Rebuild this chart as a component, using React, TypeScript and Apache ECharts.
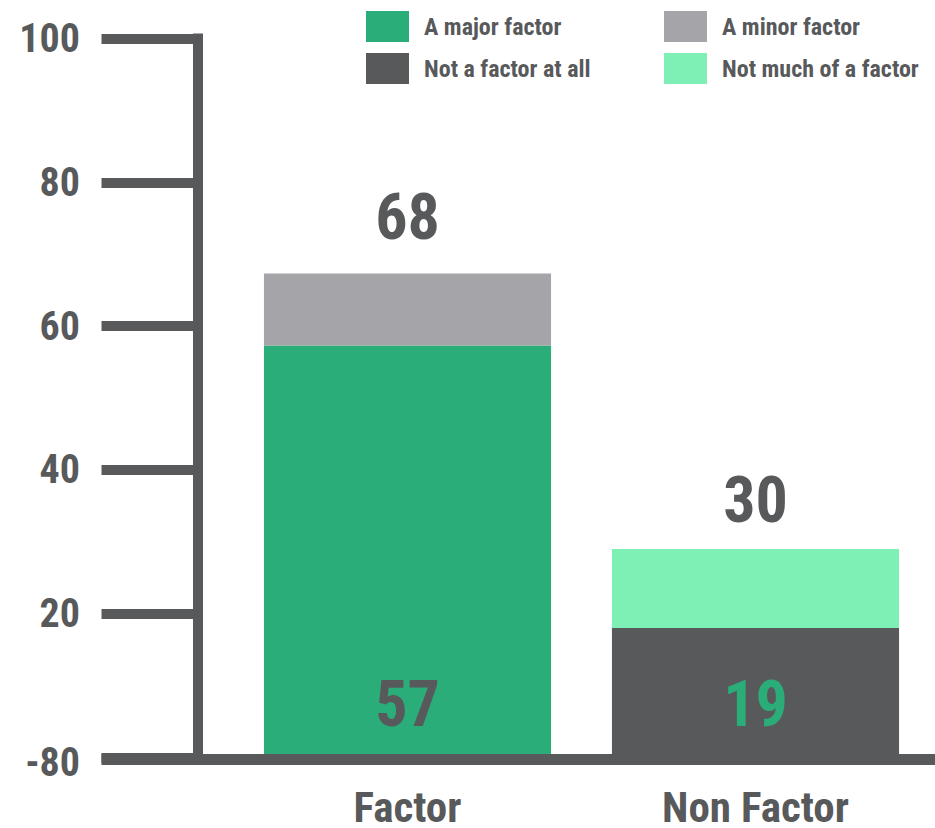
import React, { useEffect, useRef } from "react";
import * as echarts from "echarts";

const categories = ["Factor", "Non Factor"];
const majorFactor = [57.3, "-"];
const minorFactor = [10.0, "-"];
const notAtAll = ["-", 18.0];
const notMuch = ["-", 11.0];
const baseLabels = ["57", "19"];
const totalLabels = ["68", "30"];
const yTickLabels = ["-80", "20", "40", "60", "80", "100"];

const FONT = "'Roboto Condensed', 'Liberation Sans Narrow', Roboto, sans-serif";
const DARK = "#58595b";
const GREEN = "#2aad78";
const GRAY = "#a5a4a8";
const LIGHT = "#7eefb5";

export default function App() {
  const ref = useRef<HTMLDivElement>(null);
  useEffect(() => {
    const chart = echarts.init(ref.current!, null, { renderer: "svg" });
    const legendText = {
      fontFamily: FONT,
      fontWeight: "bold" as const,
      fontSize: 24,
      color: DARK,
      padding: [0, 0, 0, 10],
    };
    const valueLabel = {
      show: true,
      fontSize: 64,
      fontWeight: "bold" as const,
      fontFamily: FONT,
    };
    chart.setOption({
      animation: false,
      textStyle: { fontFamily: FONT },
      legend: [
        {
          orient: "vertical",
          left: 366,
          top: 11,
          padding: 0,
          itemWidth: 43,
          itemHeight: 31,
          itemGap: 11,
          icon: "rect",
          data: ["A major factor", "Not a factor at all"],
          textStyle: legendText,
          selectedMode: false,
        },
        {
          orient: "vertical",
          left: 664,
          top: 11,
          padding: 0,
          itemWidth: 43,
          itemHeight: 31,
          itemGap: 11,
          icon: "rect",
          data: ["A minor factor", "Not much of a factor"],
          textStyle: legendText,
          selectedMode: false,
        },
      ],
      grid: [
        { left: 233.5, right: 5.5, top: 38.5, bottom: 69 },
        { left: 101.5, right: 0, top: 38.5, bottom: 68.5 },
      ],
      xAxis: [
        {
          type: "category",
          gridIndex: 0,
          data: categories,
          axisLine: { show: false },
          axisTick: { show: false },
          axisLabel: {
            margin: 34,
            fontSize: 43,
            lineHeight: 30,
            fontWeight: "bold",
            color: DARK,
            fontFamily: FONT,
          },
        },
        {
          type: "value",
          gridIndex: 1,
          min: 0,
          max: 1,
          z: 10,
          axisLine: {
            show: true,
            lineStyle: { color: DARK, width: 11, cap: "butt" },
          },
          axisTick: { show: false },
          axisLabel: { show: false },
          splitLine: { show: false },
        },
      ],
      yAxis: [
        {
          type: "value",
          gridIndex: 0,
          min: 0,
          max: 100,
          interval: 20,
          position: "left",
          offset: 36,
          axisLine: {
            show: true,
            lineStyle: { color: DARK, width: 10, cap: "square" },
          },
          axisTick: {
            show: true,
            length: 96,
            lineStyle: { color: DARK, width: 10, cap: "butt" },
          },
          splitLine: { show: false },
          axisLabel: {
            margin: 117.5,
            fontSize: 40,
            fontWeight: "bold",
            color: DARK,
            fontFamily: FONT,
            formatter: (_v: number, i: number) =>
              i === 0 ? "{low|" + yTickLabels[i] + "}" : yTickLabels[i],
            rich: {
              low: {
                fontSize: 40,
                fontWeight: "bold",
                color: DARK,
                fontFamily: FONT,
                padding: [9, 0, 0, 0],
              },
            },
          },
        },
        {
          type: "value",
          gridIndex: 1,
          min: 0,
          max: 100,
          show: false,
        },
      ],
      series: [
        {
          name: "A major factor",
          type: "bar",
          stack: "total",
          barCategoryGap: "17.5%",
          data: majorFactor,
          itemStyle: { color: GREEN },
          label: {
            ...valueLabel,
            position: "insideBottom",
            distance: 21,
            color: DARK,
            formatter: (p: any) => baseLabels[p.dataIndex],
          },
        },
        {
          name: "A minor factor",
          type: "bar",
          stack: "total",
          data: minorFactor,
          itemStyle: { color: GRAY },
          label: {
            ...valueLabel,
            position: "top",
            distance: 24,
            color: DARK,
            formatter: (p: any) => totalLabels[p.dataIndex],
          },
        },
        {
          name: "Not a factor at all",
          type: "bar",
          stack: "total",
          data: notAtAll,
          itemStyle: { color: DARK },
          label: {
            ...valueLabel,
            position: "insideBottom",
            distance: 21,
            color: GREEN,
            formatter: (p: any) => baseLabels[p.dataIndex],
          },
        },
        {
          name: "Not much of a factor",
          type: "bar",
          stack: "total",
          data: notMuch,
          itemStyle: { color: LIGHT },
          label: {
            ...valueLabel,
            position: "top",
            distance: 16,
            color: DARK,
            formatter: (p: any) => totalLabels[p.dataIndex],
          },
        },
      ],
    });
    return () => chart.dispose();
  }, []);
  return (
    <div
      ref={ref}
      style={{ position: "absolute", left: 0, top: 0, width: 935, height: 828 }}
    />
  );
}
